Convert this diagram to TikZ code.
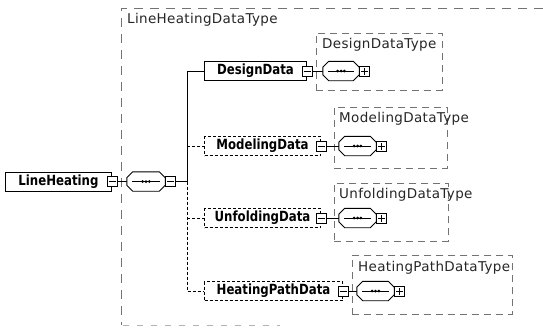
\documentclass[tikz,border=0pt]{standalone}
\usepackage{fontspec}
\newfontfamily\namefont[FakeStretch=0.84]{DejaVu Sans}
\newfontfamily\typefont[LetterSpace=2.5]{DejaVu Sans}

% sequence compositor outline: chamfered box with a dotted bar,
% drawn round an (invisible) placeholder node
\newcommand\drawseq[1]{%
  \draw[fill=white,line width=0.9pt]
    ([xshift=6pt]#1.north west) -- ([xshift=-6pt]#1.north east) --
    ([yshift=-6pt]#1.north east) -- ([yshift=6pt]#1.south east) --
    ([xshift=-6pt]#1.south east) -- ([xshift=6pt]#1.south west) --
    ([yshift=6pt]#1.south west) -- ([yshift=-6pt]#1.north west) -- cycle;
  \draw[line width=0.9pt] ([xshift=5.5pt]#1.west) -- ([xshift=-5.5pt]#1.east);
  \fill ([xshift=-3.4pt]#1.center) circle (1.5pt)
        (#1.center) circle (1.5pt)
        ([xshift=3.4pt]#1.center) circle (1.5pt);}

\begin{document}
\begin{tikzpicture}[x=1pt,y=-1pt,
  % element boxes (required: solid with shadow, optional: dashed)
  elem/.style={rectangle,draw,fill=white,line width=1pt,minimum height=19pt,
    inner sep=0pt,anchor=west,text=black,
    font=\namefont\bfseries\fontsize{14}{14}\selectfont},
  elemreq/.style={elem,
    append after command={[draw=black!45,line width=0.8pt]
      ([xshift=3pt,yshift=-1.8pt]\tikzlastnode.south west) --
      ([xshift=1.8pt,yshift=-1.8pt]\tikzlastnode.south east) --
      ([xshift=1.8pt,yshift=-3pt]\tikzlastnode.north east)}},
  elemopt/.style={elem,dash pattern=on 3pt off 2pt},
  % small expand / collapse squares
  togglebox/.style={rectangle,draw,fill=white,line width=0.8pt,
    minimum size=10pt,inner sep=0pt},
  minusbox/.style={togglebox,path picture={
    \draw[line width=0.8pt] ([xshift=-3.5pt]path picture bounding box.center) --
      ([xshift=3.5pt]path picture bounding box.center);}},
  plusbox/.style={togglebox,anchor=west,path picture={
    \draw[line width=0.8pt] ([xshift=-3.5pt]path picture bounding box.center) --
      ([xshift=3.5pt]path picture bounding box.center)
      ([yshift=-3.5pt]path picture bounding box.center) --
      ([yshift=3.5pt]path picture bounding box.center);}},
  seq/.style={rectangle,minimum height=19pt,inner sep=0pt},
  % complex type frames
  typebox/.style={rectangle,draw=black!55,line width=0.7pt,
    dash pattern=on 7pt off 5pt,anchor=north west,inner sep=0pt},
  typetitle/.style={anchor=west,inner sep=0pt,text=black!85,
    font=\typefont\fontsize{13.5}{13.5}\selectfont},
  link/.style={line width=0.9pt},
  optlink/.style={line width=0.9pt,dash pattern=on 3pt off 2pt}
]
\useasboundingbox (0,0) rectangle (543,327);

% outer frame of the root type
\draw[black!55,line width=0.7pt,dash pattern=on 9pt off 7pt]
  (543,8) -- (121,8) -- (121,325);
\draw[black!30,line width=0.6pt,dash pattern=on 6pt off 8pt]
  (123,325.5) -- (280,325.5);
\node[typetitle] (roottitle) at (127,20) {LineHeatingDataType};

% child type frames
\node[typebox,minimum width=126pt,minimum height=57pt] (designtype) at (316,33) {};
\node[typetitle] (designtitle) at (322,45) {DesignDataType};
\node[typebox,minimum width=113pt,minimum height=61pt] (modeltype) at (334,107) {};
\node[typetitle] (modeltitle) at (339,119) {ModelingDataType};
\node[typebox,minimum width=114pt,minimum height=58pt] (unftype) at (334,183) {};
\node[typetitle] (unftitle) at (339,195) {UnfoldingDataType};
\node[typebox,minimum width=160pt,minimum height=59pt] (heattype) at (352,255) {};
\node[typetitle] (heattitle) at (358,268) {HeatingPathDataType};

% root element and its sequence
\node[elemreq,minimum width=106pt] (root) at (5,181.5) {LineHeating};
\node[seq,minimum width=38pt] (rootseq) at (146,181.5) {};
\coordinate (junction) at (187,181.5);

% children
\node[elemreq,minimum width=102pt] (design) at (204,71) {DesignData};
\node[elemopt,minimum width=116pt] (model) at (204,146) {ModelingData};
\node[elemopt,minimum width=116pt] (unf) at (204,218) {UnfoldingData};
\node[elemopt,minimum width=138pt] (heat) at (204,291) {HeatingPathData};

\node[seq,minimum width=36pt] (designseq) at (341,71) {};
\node[seq,minimum width=37pt] (modelseq) at (357.5,146) {};
\node[seq,minimum width=37pt] (unfseq) at (357.5,218) {};
\node[seq,minimum width=37pt] (heatseq) at (375.5,291) {};

% connectors
\draw[link] (root.east) -- (rootseq.west);
\draw[link] (rootseq.east) -- (junction);
\draw[link] (junction) |- (design.west);
\draw[optlink] (junction |- model.west) -- (model.west);
\draw[optlink] (junction) |- (heat.west);
\draw[optlink] (junction |- unf.west) -- (unf.west);
\draw[link] (design.east) -- (designseq.west);
\draw[link] (model.east) -- (modelseq.west);
\draw[link] (unf.east) -- (unfseq.west);
\draw[link] (heat.east) -- (heatseq.west);

% compositor outlines
\drawseq{rootseq}
\drawseq{designseq}
\drawseq{modelseq}
\drawseq{unfseq}
\drawseq{heatseq}

% collapse / expand toggles
\node[minusbox] (rootminus) at (root.east) {};
\node[minusbox,anchor=west] (rootseqminus) at (rootseq.east) {};
\node[minusbox] (designminus) at (design.east) {};
\node[minusbox] (modelminus) at (model.east) {};
\node[minusbox] (unfminus) at (unf.east) {};
\node[minusbox] (heatminus) at (heat.east) {};
\node[plusbox] (designplus) at (designseq.east) {};
\node[plusbox] (modelplus) at (modelseq.east) {};
\node[plusbox] (unfplus) at (unfseq.east) {};
\node[plusbox] (heatplus) at (heatseq.east) {};
\end{tikzpicture}
\end{document}
